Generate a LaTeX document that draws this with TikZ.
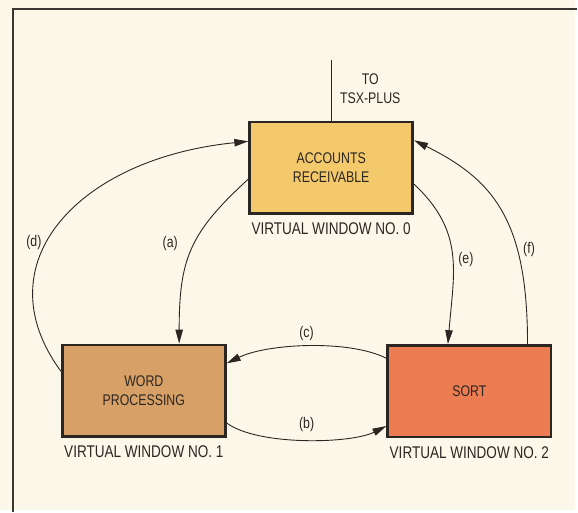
\documentclass[tikz,border=0pt]{standalone}
\usepackage{fontspec}
\setmainfont{Liberation Sans}[FakeStretch=0.8]
\usetikzlibrary{arrows.meta,positioning}
\definecolor{PaperCream}{HTML}{FCF8E9}
\definecolor{FrameGrey}{HTML}{3A3632}
\definecolor{InkDark}{HTML}{2B2622}
\definecolor{AccYellow}{HTML}{F3C96C}
\definecolor{WordTan}{HTML}{D6A066}
\definecolor{SortCoral}{HTML}{EC7D52}

\begin{document}
\begin{tikzpicture}[
    x=1pt, y=1pt,
    window/.style={
      draw=InkDark,
      fill=#1,
      line width=2.6pt,
      minimum width=164pt,
      minimum height=92pt,
      font=\fontsize{15.5}{19}\selectfont,
      text=InkDark,
      align=center
    },
    caption/.style={
      font=\fontsize{17}{20}\selectfont,
      text=InkDark,
      inner sep=0pt
    },
    tag/.style={
      font=\fontsize{15.5}{19}\selectfont,
      text=InkDark,
      inner sep=0pt,
      align=center
    },
    wire/.style={
      line width=0.9pt,
      color=InkDark
    },
    arr/.style={
      -{Triangle[length=14pt,width=7.5pt]},
      wire
    }
  ]

  % paper and frame
  \fill[PaperCream] (0,0) rectangle (578,512);
  \draw[FrameGrey, line width=1.4pt] (13,-2) -- (13,503) -- (580,503);
  \useasboundingbox (0,0) rectangle (578,512);

  % windows
  \node[window=AccYellow] (acc)  at (332.7,343.6) {ACCOUNTS\\RECEIVABLE};
  \node[window=WordTan]   (wp)   at (144.5,119.5) {WORD\\PROCESSING};
  \node[window=SortCoral] (sort) at (471.5,119)   {SORT};

  % captions
  \node[caption, below=8pt of acc]  (accname)  {VIRTUAL WINDOW NO. 0};
  \node[caption, below=8pt of wp]   (wpname)   {VIRTUAL WINDOW NO. 1};
  \node[caption, below=8pt of sort] (sortname) {VIRTUAL WINDOW NO. 2};

  % link to TSX-PLUS
  \coordinate (tsx) at (332.7,452);
  \node[tag] (tsxname) at (372,422.5) {TO\\TSX-PLUS};
  \draw[wire] (acc.north) -- (tsx);

  % switching paths
  \draw[arr] ([yshift=-11.6pt]acc.west) .. controls +(-59,-54) and +(0,85) .. ([xshift=35.5pt]wp.north);
  \draw[arr] ([yshift=-32.5pt]wp.east) .. controls +(31,-23) and +(-36,-18) .. ([yshift=-35pt]sort.west);
  \draw[arr] ([yshift=33pt]sort.west) .. controls +(-37,19) and +(41,20) .. ([yshift=27.5pt]wp.east);
  \draw[arr] ([yshift=19.5pt]wp.west) .. controls +(-80,109) and +(-170,-17) .. ([yshift=26.4pt]acc.west);
  \draw[arr] ([yshift=-16.6pt]acc.east) .. controls +(51,-48) and +(6,73) .. ([xshift=-21.5pt]sort.north);
  \draw[arr] ([xshift=58.5pt]sort.north) .. controls +(0,123) and +(81,-40) .. ([yshift=27.4pt]acc.east);

  % path labels
  \node[tag] (la) at (171,267.5) {(a)};
  \node[tag] (lb) at (308,86)    {(b)};
  \node[tag] (lc) at (308,176.5) {(c)};
  \node[tag] (ld) at (34,268)    {(d)};
  \node[tag] (le) at (468,251.5) {(e)};
  \node[tag] (lf) at (531.5,261.5) {(f)};

\end{tikzpicture}
\end{document}
